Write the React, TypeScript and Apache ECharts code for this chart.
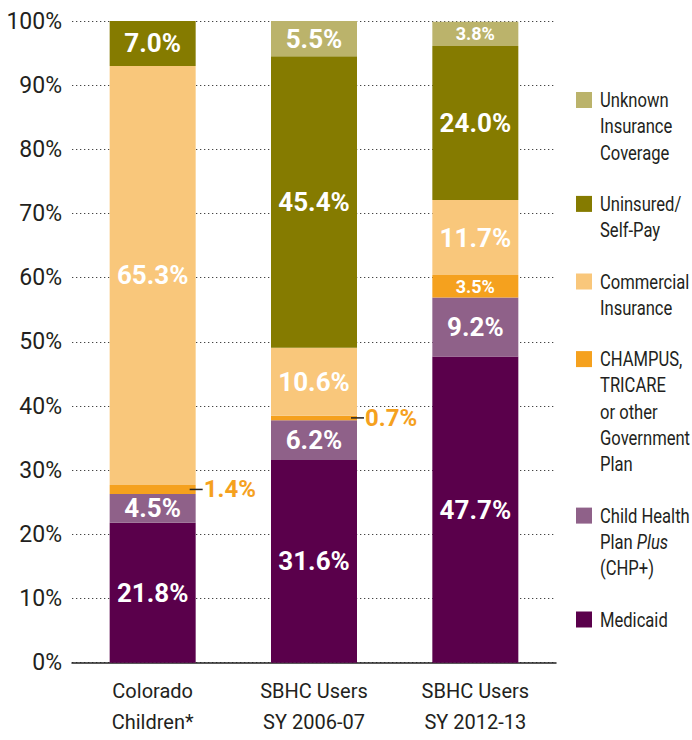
import React, { useEffect, useRef } from "react";
import * as echarts from "echarts";

const categories = ["Colorado\nChildren*", "SBHC Users\nSY 2006-07", "SBHC Users\nSY 2012-13"];
const seriesNames = [
  "Medicaid",
  "Child Health Plan Plus (CHP+)",
  "CHAMPUS, TRICARE or other Government Plan",
  "Commercial Insurance",
  "Uninsured/Self-Pay",
  "Unknown Insurance Coverage",
];
const medicaid = [21.8, 31.6, 47.7];
const chpPlus = [4.5, 6.2, 9.2];
const champus = [1.4, 0.7, 3.5];
const commercial = [65.3, 10.6, 11.7];
const uninsured = [7.0, 45.4, 24.0];
const unknown = [null, 5.5, 3.8];
const seriesValues = [medicaid, chpPlus, champus, commercial, uninsured, unknown];
const colors = ["#5a004b", "#8f6189", "#f5a11e", "#f9c77b", "#857b00", "#bbb36b"];
const legendLabels = [
  "Medicaid",
  "Child Health\nPlan {i|Plus}\n(CHP+)",
  "CHAMPUS,\nTRICARE\nor other\nGovernment\nPlan",
  "Commercial\nInsurance",
  "Uninsured/\nSelf-Pay",
  "Unknown\nInsurance\nCoverage",
];

const FONT = "Roboto, sans-serif";
const TEXT = "#231f20";
const fmt = (v: number) => v.toFixed(1) + "%";

function buildData(values: (number | null)[], color: string) {
  return values.map((v) => {
    if (v == null) return { value: null };
    if (v < 2) {
      return {
        value: v,
        label: {
          position: "right",
          distance: 0,
          offset: [-6, 0],
          formatter: "{ln| }{v|" + fmt(v) + "}",
          rich: {
            ln: { width: 13, height: 1.5, backgroundColor: "#222" },
            v: { color, fontSize: 24, fontWeight: "bold", fontFamily: FONT, padding: [0, 0, 0, 1] },
          },
        },
      };
    }
    if (v < 4) return { value: v, label: { fontSize: 18 } };
    return { value: v };
  });
}

export default function App() {
  const ref = useRef<HTMLDivElement>(null);
  useEffect(() => {
    if (!ref.current) return;
    const chart = echarts.init(ref.current, null, { renderer: "svg" });
    const graphics: any[] = [];
    const LH = 26.3;
    let y = 92;
    for (let k = legendLabels.length - 1; k >= 0; k--) {
      const label = legendLabels[k];
      const nLines = label.split("\n").length;
      graphics.push({ type: "rect", shape: { x: 576, y, width: 16, height: 16 }, style: { fill: colors[k] } });
      graphics.push({
        type: "text",
        x: 600,
        y: y + 8 - LH / 2,
        scaleX: 0.83,
        style: {
          text: label,
          fill: TEXT,
          fontSize: 20,
          fontFamily: FONT,
          lineHeight: LH,
          verticalAlign: "top",
          align: "left",
          rich: { i: { fontStyle: "italic", fontSize: 20, fontFamily: FONT, lineHeight: LH, fill: TEXT } },
        },
      });
      y += nLines * LH + 25;
    }
    chart.setOption({
      animation: false,
      textStyle: { fontFamily: FONT },
      grid: { left: 72, right: 136, top: 21, bottom: 77.3, containLabel: false },
      xAxis: {
        type: "category",
        data: categories,
        axisLine: { show: true, lineStyle: { color: "#222", width: 1.5 } },
        axisTick: { show: false },
        axisLabel: { color: TEXT, fontSize: 20, lineHeight: 31, margin: 13, fontFamily: FONT },
      },
      yAxis: {
        type: "value",
        min: 0,
        max: 100,
        interval: 10,
        axisLine: { show: false },
        axisTick: { show: false },
        axisLabel: { color: TEXT, fontSize: 23, margin: 10, fontFamily: FONT, formatter: "{value}%" },
        splitLine: { show: true, lineStyle: { color: "#444", width: 1, type: [1.3, 2.7] } },
      },
      series: seriesValues.map((vals, i) => ({
        name: seriesNames[i],
        type: "bar",
        stack: "total",
        barWidth: 86,
        itemStyle: { color: colors[i] },
        label: {
          show: true,
          position: "inside",
          color: "#fff",
          fontWeight: "bold",
          fontSize: 26,
          fontFamily: FONT,
          formatter: (p: any) => fmt(p.value),
        },
        data: buildData(vals, colors[i]),
      })),
      graphic: graphics,
    });
    return () => chart.dispose();
  }, []);
  return <div ref={ref} style={{ position: "absolute", left: 0, top: 0, width: 692, height: 740, background: "#fff" }} />;
}
